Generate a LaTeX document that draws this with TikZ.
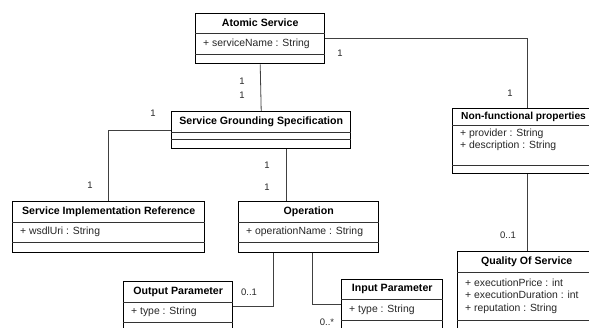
\documentclass[tikz,border=0pt]{standalone}
\usepackage{fontspec}
\setmainfont{Liberation Sans}
\usetikzlibrary{calc}
\tikzset{
  clsbox/.style={draw=black, line width=1.4pt, fill=white, inner sep=0pt},
  divider/.style={draw=black!80, line width=0.8pt},
  ttl/.style={font=\fontsize{10.6}{12}\selectfont\bfseries, inner sep=0pt, text=black},
  attr/.style={font=\fontsize{10.4}{12.5}\selectfont, inner sep=0pt, align=left, anchor=west, text=black!85},
  conn/.style={draw=black!75, line width=0.8pt},
  mult/.style={font=\fontsize{9.5}{11}\selectfont, inner sep=0pt, text=black!85},
}
% #1 name, #2 x, #3 y, #4 width, #5 height, #6 title divider, #7 attr divider, #8 title, #9 attributes
\newcommand\umlclassbox[9]{%
  \node[clsbox, minimum width=#4pt, minimum height=#5pt, anchor=north west] (#1) at (#2,#3) {};
  \draw[divider] ([yshift=-#6pt]#1.north west) -- ([yshift=-#6pt]#1.north east);
  \draw[divider] ([yshift=-#7pt]#1.north west) -- ([yshift=-#7pt]#1.north east);
  \node[ttl] (#1-t) at ([yshift={-0.5*#6pt}]#1.north) {#8};
  \node[attr] (#1-a) at ([xshift=8pt, yshift={-0.5*(#6pt+#7pt)}]#1.north west) {#9};
}
\begin{document}
\begin{tikzpicture}[x=1pt, y=-1pt]
  \path[use as bounding box] (0,0) rectangle (589,328);
  \clip (0,0) rectangle (589,328);
  \fill[white] (0,0) rectangle (589,328);

  \umlclassbox{as}{195}{13}{129}{50}{20}{41}{Atomic Service}{+ serviceName : String}
  \umlclassbox{sgs}{171}{111}{179}{37}{21}{28}{Service Grounding Specification}{}
  \umlclassbox{sir}{12}{201}{192}{51}{21}{41}{Service Implementation Reference}{+ wsdlUri : String}
  \umlclassbox{op}{238}{201}{140}{51}{21}{41}{Operation}{+ operationName : String}
  \umlclassbox{nf}{452}{108}{150}{65}{17}{57}{}{}
  \node[ttl, font=\fontsize{10.2}{12}\selectfont\bfseries, anchor=west] (nf-title) at ([xshift=9pt, yshift=-8.5pt]nf.north west) {Non-functional properties};
  \node[attr] (nf-attrs) at ([xshift=8pt, yshift=-32pt]nf.north west) {+ provider : String\\+ description : String};
  \umlclassbox{qos}{457}{251}{138}{80}{21}{69}{Quality Of Service}{+ executionPrice : int\\+ executionDuration : int\\+ reputation : String}
  \umlclassbox{out}{123}{281}{109}{50}{21}{41}{Output Parameter}{+ type : String}
  \umlclassbox{inp}{341}{279}{101}{50}{20}{41}{Input Parameter}{+ type : String}

  % connectors
  \draw[conn] (as.east) -| (nf.north);
  \draw[conn] (as.south) -- (sgs.north);
  \draw[conn] (sgs.west) -| (sir.north);
  \draw[conn] ([xshift=25.5pt]sgs.south) -- ([xshift=25.5pt]sgs.south |- op.north);
  \draw[conn] ([xshift=-35pt]op.south) |- (out.east);
  \draw[conn] ([xshift=4pt]op.south) |- (inp.west);
  \draw[conn] (nf.south) -- (nf.south |- qos.north);

  % multiplicities
  \node[mult] (m1) at (340,53) {1};
  \node[mult] (m2) at (510,93) {1};
  \node[mult] (m3) at (242,81) {1};
  \node[mult] (m4) at (242,95) {1};
  \node[mult] (m5) at (153,113) {1};
  \node[mult] (m6) at (90,185) {1};
  \node[mult] (m7) at (267,165) {1};
  \node[mult] (m8) at (267,187) {1};
  \node[mult] (m9) at (249,292) {0..1};
  \node[mult] (m10) at (327,322) {0..*};
  \node[mult] (m11) at (508,235) {0..1};
\end{tikzpicture}
\end{document}
